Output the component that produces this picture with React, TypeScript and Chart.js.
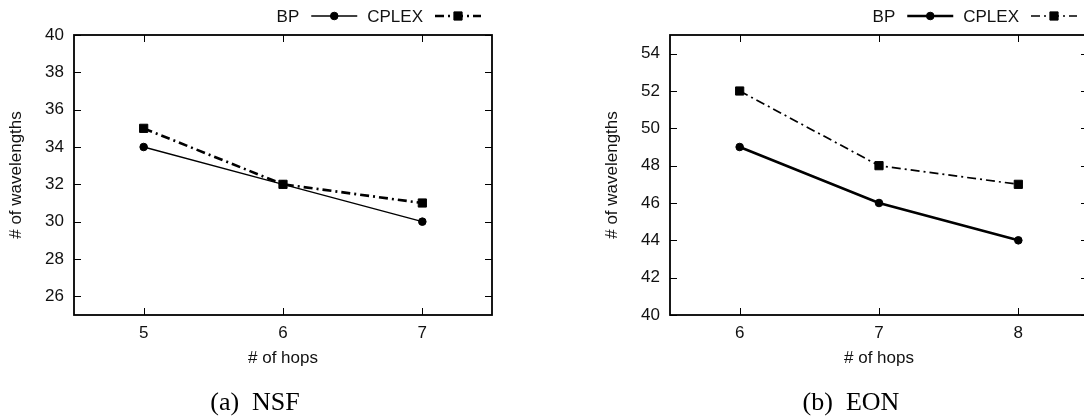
import React, { useEffect, useRef } from 'react';
import { Chart, registerables } from 'chart.js';

Chart.register(...registerables);

// ---- data ----
const nsfHops = ['5', '6', '7'];
const nsfBP = [34, 32, 30];
const nsfCPLEX = [35, 32, 31];
const nsfYTicks = [26, 28, 30, 32, 34, 36, 38, 40];

const eonHops = ['6', '7', '8'];
const eonBP = [49, 46, 44];
const eonCPLEX = [52, 48, 47];
const eonYTicks = [40, 42, 44, 46, 48, 50, 52, 54];

const seriesNames = ['BP', 'CPLEX'];

const TEXT = '#111';
const FONT_FAMILY = '"Liberation Sans", Arial, Helvetica, sans-serif';
const DASH_DOT = [9, 4, 2, 4];

const FIG_W = 510;
const FIG_H = 419;

function drawMarker(ctx: CanvasRenderingContext2D, style: string, x: number, y: number, r: number) {
  ctx.beginPath();
  if (style === 'rect') {
    const s = Math.SQRT1_2 * r;
    ctx.rect(x - s, y - s, 2 * s, 2 * s);
  } else {
    ctx.arc(x, y, r, 0, Math.PI * 2);
  }
  ctx.fill();
  ctx.stroke();
}

const gnuplotFrame = {
  id: 'gnuplotFrame',
  beforeDatasetsDraw(chart: any) {
    const { ctx, chartArea } = chart;
    const { left, right, top, bottom } = chartArea;
    const xs = chart.scales.x;
    const ys = chart.scales.y;
    const tl = 7;
    ctx.save();
    ctx.strokeStyle = '#000';
    ctx.lineWidth = 1;
    ctx.beginPath();
    xs.ticks.forEach((_t: any, i: number) => {
      const px = Math.round(xs.getPixelForTick(i)) + 0.5;
      ctx.moveTo(px, bottom);
      ctx.lineTo(px, bottom - tl);
      ctx.moveTo(px, top);
      ctx.lineTo(px, top + tl);
    });
    ys.ticks.forEach((t: any) => {
      const py = Math.round(ys.getPixelForValue(t.value)) + 0.5;
      ctx.moveTo(left, py);
      ctx.lineTo(left + tl, py);
      ctx.moveTo(right, py);
      ctx.lineTo(right - tl, py);
    });
    ctx.stroke();
    ctx.lineWidth = 1.8;
    ctx.strokeRect(left, top, right - left, bottom - top);
    ctx.restore();
  },
  afterDraw(chart: any) {
    const { ctx, chartArea } = chart;
    const ds = chart.data.datasets;
    const y = chartArea.top - 19;
    const sampleW = 46;
    const textGap = 12;
    const itemGap = 10;
    ctx.save();
    ctx.font = `17px ${FONT_FAMILY}`;
    ctx.textAlign = 'right';
    ctx.textBaseline = 'middle';
    let end = chartArea.right - 11;
    for (let i = ds.length - 1; i >= 0; i--) {
      const d = ds[i];
      const sL = end - sampleW;
      ctx.strokeStyle = d.borderColor;
      ctx.fillStyle = d.backgroundColor;
      ctx.lineWidth = d.borderWidth;
      ctx.setLineDash(d.borderDash || []);
      ctx.beginPath();
      ctx.moveTo(sL, y);
      ctx.lineTo(end, y);
      ctx.stroke();
      ctx.setLineDash([]);
      ctx.lineWidth = 1;
      drawMarker(ctx, d.pointStyle, (sL + end) / 2, y, d.pointRadius);
      ctx.fillStyle = TEXT;
      const tr = sL - textGap;
      ctx.fillText(d.label, tr, y + 1);
      const w = ctx.measureText(d.label).width;
      end = tr - w - itemGap;
    }
    ctx.restore();
  },
};

type FigProps = {
  hops: string[];
  bp: number[];
  cplex: number[];
  yMin: number;
  yMax: number;
  yTicks: number[];
  bpWidth: number;
  cplexWidth: number;
  left: number;
  caption: string;
};

function Figure({ hops, bp, cplex, yMin, yMax, yTicks, bpWidth, cplexWidth, left, caption }: FigProps) {
  const ref = useRef<HTMLCanvasElement>(null);
  useEffect(() => {
    const font = { family: FONT_FAMILY, size: 17 };
    const chart = new Chart(ref.current as HTMLCanvasElement, {
      type: 'line',
      data: {
        labels: hops,
        datasets: [
          {
            label: seriesNames[0],
            data: bp,
            borderColor: '#000',
            backgroundColor: '#000',
            borderWidth: bpWidth,
            pointStyle: 'circle',
            pointRadius: 3.8,
            pointHoverRadius: 3.8,
            pointBorderWidth: 1,
            tension: 0,
          },
          {
            label: seriesNames[1],
            data: cplex,
            borderColor: '#000',
            backgroundColor: '#000',
            borderWidth: cplexWidth,
            borderDash: DASH_DOT,
            borderCapStyle: 'butt',
            pointStyle: 'rect',
            pointRadius: 5.8,
            pointHoverRadius: 5.8,
            pointBorderWidth: 1,
            tension: 0,
          },
        ],
      } as any,
      options: {
        responsive: false,
        animation: false,
        events: [],
        layout: { padding: { top: 35, right: 18, bottom: 0, left: 0 } },
        plugins: { legend: { display: false }, tooltip: { enabled: false } },
        scales: {
          x: {
            type: 'category',
            offset: true,
            grid: { display: false, drawTicks: false, tickLength: 0 },
            border: { display: false },
            ticks: { padding: 8, color: TEXT, font },
            title: { display: true, text: '# of hops', color: TEXT, font, padding: { top: 0, bottom: 50 } },
            afterFit: (s: any) => {
              s.height = 104;
            },
          },
          y: {
            type: 'linear',
            min: yMin,
            max: yMax,
            afterBuildTicks: (s: any) => {
              s.ticks = yTicks.map((v) => ({ value: v }));
            },
            grid: { display: false, drawTicks: false, tickLength: 0 },
            border: { display: false },
            ticks: { padding: 10, color: TEXT, font },
            title: { display: true, text: '# of wavelengths', color: TEXT, font, padding: { top: 6, bottom: 0 } },
            afterFit: (s: any) => {
              s.width = 74;
            },
          },
        },
      } as any,
      plugins: [gnuplotFrame],
    });
    return () => chart.destroy();
  }, []);

  return (
    <div style={{ position: 'absolute', left, top: 0, width: FIG_W, height: FIG_H }}>
      <canvas ref={ref} width={FIG_W} height={FIG_H} style={{ width: FIG_W, height: FIG_H, display: 'block' }} />
      <div
        style={{
          position: 'absolute',
          left: 0,
          width: FIG_W,
          top: 386,
          textAlign: 'center',
          fontFamily: '"Liberation Serif", "Times New Roman", serif',
          fontSize: 26,
          lineHeight: '32px',
          whiteSpace: 'pre',
          color: '#000',
        }}
      >
        {caption}
      </div>
    </div>
  );
}

export default function App() {
  return (
    <div style={{ position: 'absolute', left: 0, top: 0, width: 1084, height: 419, overflow: 'hidden', background: '#fff' }}>
      <Figure
        hops={nsfHops}
        bp={nsfBP}
        cplex={nsfCPLEX}
        yMin={25}
        yMax={40}
        yTicks={nsfYTicks}
        bpWidth={1.3}
        cplexWidth={2.6}
        left={0}
        caption={'(a)  NSF'}
      />
      <Figure
        hops={eonHops}
        bp={eonBP}
        cplex={eonCPLEX}
        yMin={40}
        yMax={55}
        yTicks={eonYTicks}
        bpWidth={2.6}
        cplexWidth={1.7}
        left={596}
        caption={'(b)  EON'}
      />
    </div>
  );
}
